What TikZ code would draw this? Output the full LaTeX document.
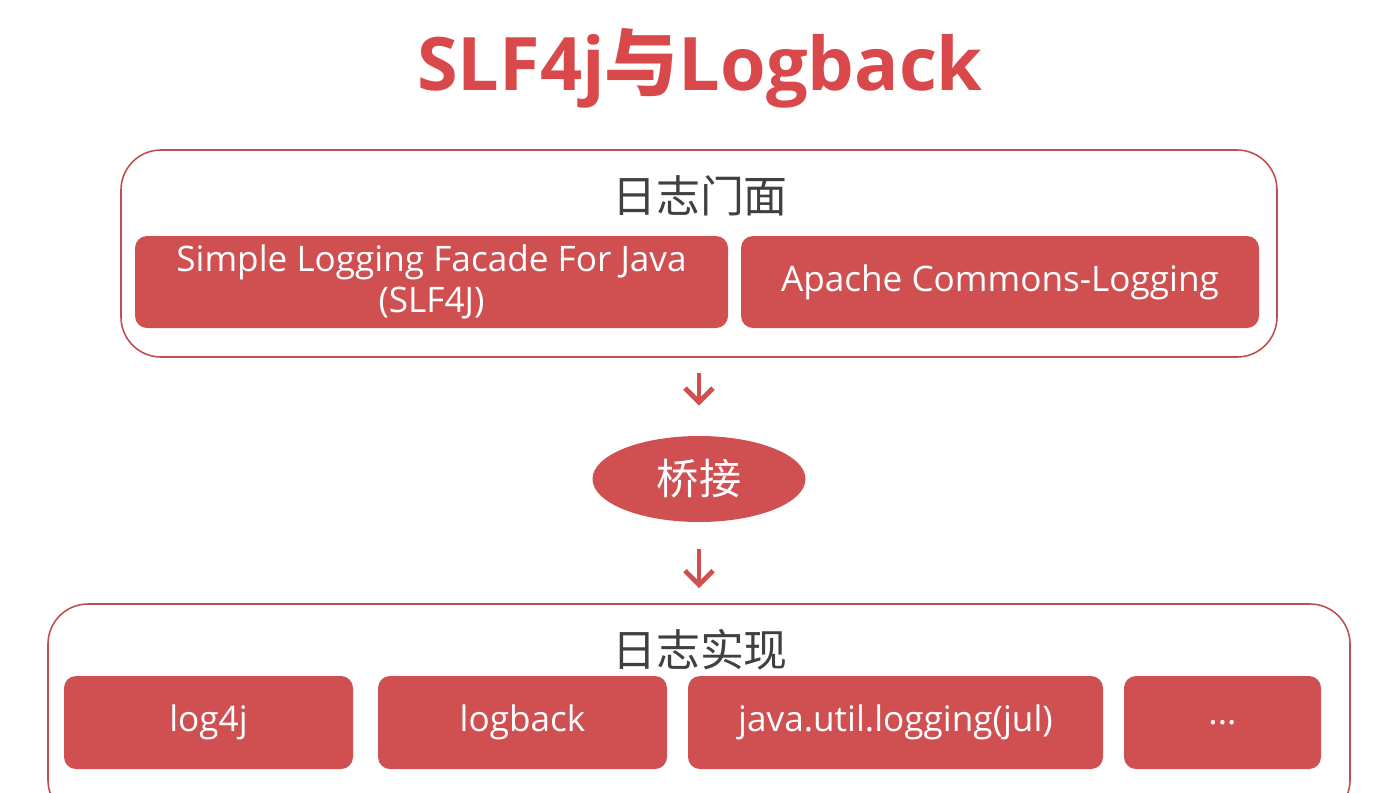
\documentclass[tikz,border=0pt]{standalone}
\usepackage{fontspec}
\setmainfont{Open Sans}
\newfontfamily\cjk{Noto Sans CJK SC}
\usepackage{xcolor}
\definecolor{lgred}{RGB}{208,80,82}
\definecolor{lgtitle}{RGB}{217,72,75}
\definecolor{lgframe}{RGB}{190,78,80}
\definecolor{lgdark}{RGB}{64,64,64}
\usepackage{tikz}
\usetikzlibrary{arrows.meta, positioning, shapes.geometric}

\begin{document}
\begin{tikzpicture}[
  frame/.style={draw=lgframe, line width=0.9pt, rounded corners=0.8cm},
  libbox/.style={fill=lgred, rounded corners=0.24cm, text=white,
                 font=\fontsize{20}{23}\selectfont, align=center, inner sep=0pt},
  grouptitle/.style={text=lgdark, font=\cjk\fontsize{25}{30}\selectfont},
  flow/.style={draw=lgred, line width=2.8pt, -{Straight Barb[length=8pt, width=16pt]}},
  >=Stealth
]
\useasboundingbox (0,0) rectangle (28,-15.84);
\clip (0,0) rectangle (28,-15.84);

% --- Title ---
\node[text=lgtitle, font=\fontsize{42}{50}\selectfont\bfseries]
      (title) at (14.0,-1.36) {SLF4j{\cjk 与}Logback};

% --- Facade layer ---
\node[frame, minimum width=23.12cm, minimum height=4.14cm]
      (facade) at (13.98,-5.07) {};
\node[grouptitle] (facadetitle) at (14.0,-3.92) {日志门面};
\node[libbox, minimum width=11.86cm, minimum height=1.84cm]
      (slf4j) at (8.63,-5.64) {Simple Logging Facade For Java\\(SLF4J)};
\node[libbox, minimum width=10.36cm, minimum height=1.84cm]
      (jcl) at (20.0,-5.64) {Apache Commons-Logging};

% --- Bridge ---
\node[ellipse, fill=lgred, minimum width=4.26cm, minimum height=1.72cm,
      text=white, font=\cjk\fontsize{24}{28}\selectfont, inner sep=0pt]
      (bridge) at (13.98,-9.58) {桥接};

% --- Implementation layer ---
\node[frame, minimum width=26.04cm, minimum height=4.32cm]
      (impl) at (13.98,-14.24) {};
\node[grouptitle] (impltitle) at (14.0,-13.0) {日志实现};
\node[libbox, minimum width=5.78cm, minimum height=1.86cm]
      (log4j) at (4.17,-14.45) {log4j};
\node[libbox, minimum width=5.78cm, minimum height=1.86cm]
      (logback) at (10.45,-14.45) {logback};
\node[libbox, minimum width=8.30cm, minimum height=1.86cm]
      (jul) at (17.91,-14.45) {java.util.logging(jul)};
\node[libbox, minimum width=3.94cm, minimum height=1.86cm]
      (more) at (24.45,-14.45) {...};

% Arrows
\draw[flow, shorten <=0.3cm, shorten >=0.6cm] (facade.south -| bridge) -- (bridge.north);
\draw[flow, shorten <=0.54cm, shorten >=0.3cm] (bridge.south) -- (impl.north -| bridge);

\end{tikzpicture}
\end{document}
